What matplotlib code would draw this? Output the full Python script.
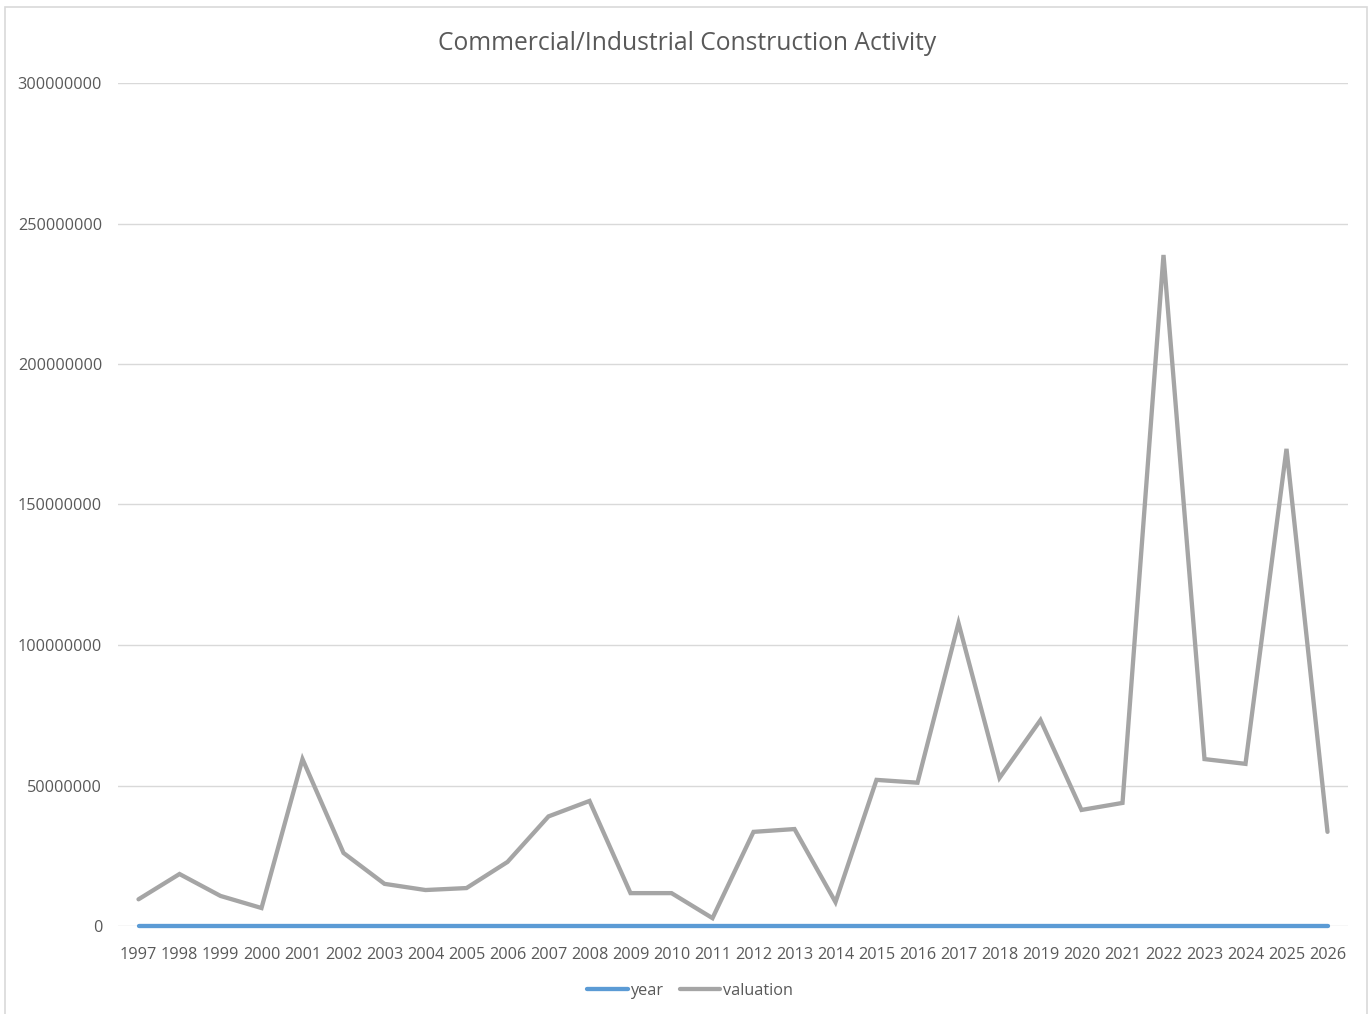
import matplotlib.pyplot as plt
from matplotlib.patches import Rectangle

years = list(range(1997, 2027))
valuation = [9.5e6, 18.5e6, 10.7e6, 6.4e6, 59.4e6, 26.0e6, 15.0e6, 12.8e6, 13.5e6, 22.8e6,
             39.0e6, 44.5e6, 11.7e6, 11.7e6, 2.8e6, 33.5e6, 34.5e6, 8.5e6, 52.0e6, 51.0e6,
             107.8e6, 52.7e6, 73.3e6, 41.3e6, 43.8e6, 238.8e6, 59.4e6, 57.7e6, 169.8e6, 33.5e6]
year_labels = [str(y) for y in years]

plt.rcParams['font.family'] = ['Open Sans', 'DejaVu Sans']
txt = '#595959'

fig = plt.figure(figsize=(13.71, 10.14), dpi=100)
fig.patches.append(Rectangle((5 / 1371, -0.01), 1362 / 1371, 1.0 - 7 / 1014 + 0.01,
                             transform=fig.transFigure, fill=False,
                             edgecolor='#D9D9D9', linewidth=1.2))
ax = fig.add_axes([118 / 1371, 1 - 926 / 1014, 1230 / 1371, 843 / 1014])

idx = list(range(len(years)))
ax.plot(idx, years, color='#5B9BD5', lw=3.1, solid_capstyle='round', label='year',
        zorder=3, clip_on=False)
ax.plot(idx, valuation, color='#A5A5A5', lw=3.1, solid_capstyle='round',
        solid_joinstyle='miter', label='valuation', zorder=3)

ax.set_xlim(-0.5, len(years) - 0.5)
ax.set_ylim(0, 300000000)
ax.set_yticks(range(0, 300000001, 50000000))
ax.set_yticklabels([str(v) for v in range(0, 300000001, 50000000)])
ax.set_xticks(idx)
ax.set_xticklabels(year_labels)
ax.tick_params(axis='both', length=0, colors=txt, labelsize=11.7)
ax.tick_params(axis='y', pad=11.5)
ax.tick_params(axis='x', pad=15)
ax.grid(axis='y', color='#D9D9D9', lw=1)
ax.set_axisbelow(True)
for s in ['top', 'right', 'left', 'bottom']:
    ax.spines[s].set_visible(False)

fig.text(687 / 1371, 1 - 43 / 1014, 'Commercial/Industrial Construction Activity',
         ha='center', va='center', fontsize=17.7, color=txt)

fig.legend(*ax.get_legend_handles_labels(), loc='center',
           bbox_to_anchor=(690 / 1371, 1 - 991 / 1014), ncol=2, frameon=False,
           fontsize=11.7, labelcolor=txt, handlelength=2.5, handletextpad=0.15,
           columnspacing=1.0)

fig.savefig('out.png', dpi=100)
